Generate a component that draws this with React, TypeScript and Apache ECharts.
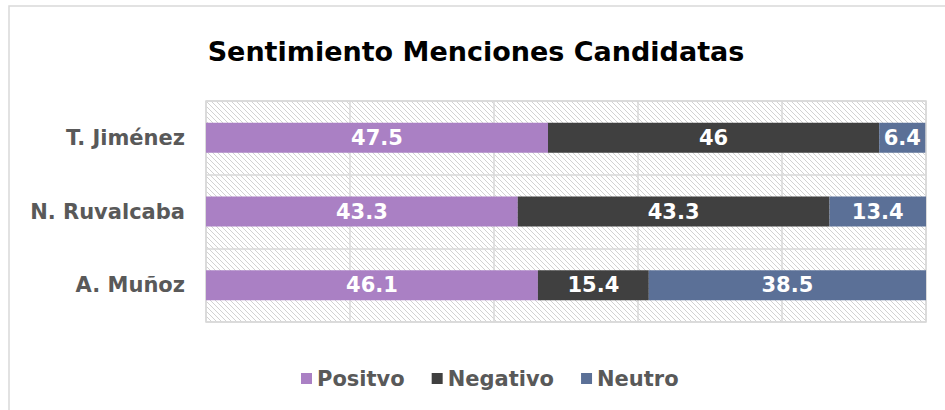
import React, { useEffect, useRef } from "react";
import * as echarts from "echarts";

const categories = ["T. Jiménez", "N. Ruvalcaba", "A. Muñoz"];
const positivo = [47.5, 43.3, 46.1];
const negativo = [46, 43.3, 15.4];
const neutro = [6.4, 13.4, 38.5];
const seriesNames = ["Positvo", "Negativo", "Neutro"];
const colors = ["#AA80C4", "#404040", "#5B7097"];
const titleText = "Sentimiento Menciones Candidatas";

function makeHatch(): HTMLCanvasElement {
  const c = document.createElement("canvas");
  const n = 5;
  c.width = n;
  c.height = n;
  const ctx = c.getContext("2d")!;
  ctx.fillStyle = "#ffffff";
  ctx.fillRect(0, 0, n, n);
  ctx.fillStyle = "#d2d2d2";
  for (let y = 0; y < n; y++) {
    for (let x = 0; x < n; x++) {
      if ((x - y + n) % n === 0) ctx.fillRect(x, y, 1, 1);
    }
  }
  return c;
}

export default function App() {
  const ref = useRef<HTMLDivElement>(null);
  useEffect(() => {
    if (!ref.current) return;
    const chart = echarts.init(ref.current, null, { renderer: "svg" });
    const font = "'DejaVu Sans', Arial, sans-serif";
    const hatch = makeHatch();
    const data = [positivo, negativo, neutro];
    chart.setOption({
      animation: false,
      backgroundColor: "#ffffff",
      textStyle: { fontFamily: font },
      title: {
        text: titleText,
        left: 471,
        top: 33,
        textAlign: "center",
        textStyle: { fontFamily: font, fontWeight: "bold", fontSize: 27, color: "#000000" },
      },
      graphic: [
        {
          type: "rect",
          shape: { x: 9, y: 6, width: 1000, height: 500 },
          style: { fill: "none", stroke: "#d9d9d9", lineWidth: 1.5 },
          silent: true,
        },
      ],
      legend: {
        data: seriesNames,
        left: 296,
        top: 363,
        itemWidth: 11,
        itemHeight: 11,
        itemGap: 27,
        icon: "rect",
        textStyle: { fontFamily: font, fontWeight: "bold", fontSize: 21, color: "#595959" },
      },
      grid: {
        left: 206,
        right: 19,
        top: 101,
        bottom: 88,
        show: true,
        backgroundColor: { image: hatch, repeat: "repeat" },
        borderColor: "#d9d9d9",
        borderWidth: 1.5,
      },
      xAxis: {
        type: "value",
        min: 0,
        max: 100,
        interval: 20,
        axisLabel: { show: false },
        axisLine: { show: false },
        axisTick: { show: false },
        splitLine: { show: true, lineStyle: { color: "#d9d9d9", width: 1.5 } },
      },
      yAxis: {
        type: "category",
        data: categories,
        inverse: true,
        axisTick: { show: false },
        axisLine: { show: false },
        splitLine: { show: true, lineStyle: { color: "#d9d9d9", width: 1.5 } },
        axisLabel: {
          margin: 21,
          fontFamily: font,
          fontWeight: "bold",
          fontSize: 21,
          color: "#595959",
        },
      },
      series: seriesNames.map((name, i) => ({
        name,
        type: "bar",
        stack: "total",
        barWidth: 30,
        data: data[i],
        itemStyle: { color: colors[i] },
        label: {
          show: true,
          position: "inside",
          color: "#ffffff",
          fontFamily: font,
          fontWeight: "bold",
          fontSize: 21,
          formatter: (p: any) => String(p.value),
        },
      })),
    });
    return () => chart.dispose();
  }, []);
  return (
    <div
      ref={ref}
      style={{ position: "fixed", left: 0, top: 0, width: 945, height: 410 }}
    />
  );
}
